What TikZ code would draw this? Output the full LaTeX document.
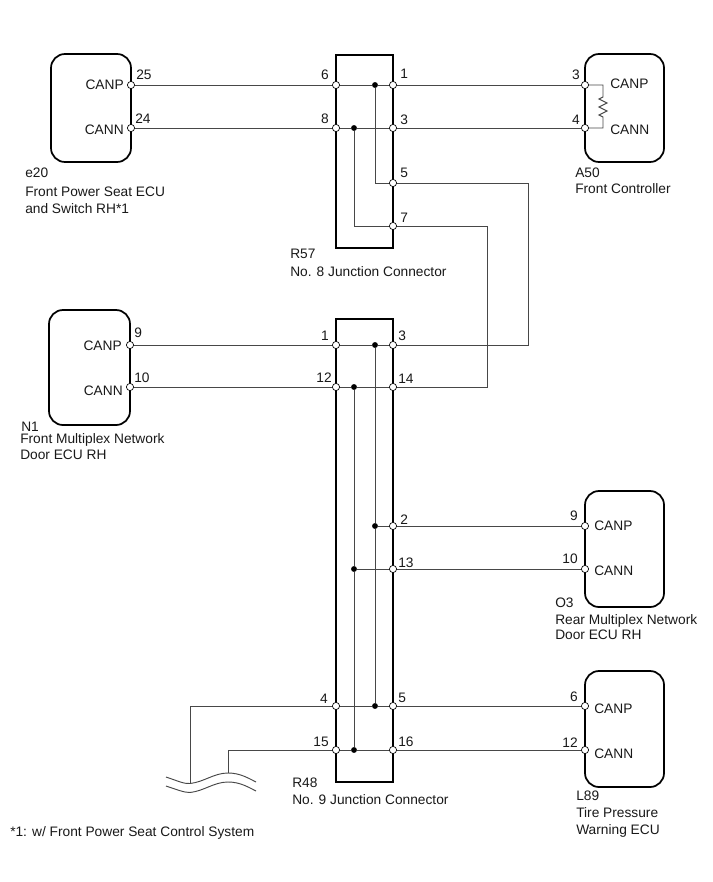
\documentclass[tikz,border=0pt]{standalone}
\usepackage{fontspec}
\setmainfont{Liberation Sans}
\tikzset{
  x=0.75pt,y=-0.75pt,
  ecu/.style={draw=black,line width=1.3pt,rounded corners=10.5pt,fill=white},
  jbox/.style={draw=black,line width=1.3pt,fill=white},
  wire/.style={draw=black!72,line width=0.7pt},
  pin/.style={circle,draw=black,fill=white,line width=0.5pt,inner sep=0pt,minimum size=5.4pt},
  dot/.style={circle,fill=black,draw=none,inner sep=0pt,minimum size=4.4pt},
  lab/.style={font=\fontsize{10.3pt}{12pt}\selectfont,inner sep=0pt,text=black!90},
  labl/.style={lab,anchor=base west},
  labr/.style={lab,anchor=base east},
}
\begin{document}
\begin{tikzpicture}
\useasboundingbox (0,0) rectangle (713,882);
\fill[white] (0,0) rectangle (713,882);
% boxes
\draw[ecu] (51,54) rectangle (131,162);
\draw[ecu] (585,54) rectangle (664,162);
\draw[ecu] (49,310) rectangle (130,425);
\draw[ecu] (585,491) rectangle (664,607);
\draw[ecu] (585,671) rectangle (664,787);
\draw[jbox] (336,55) rectangle (393,248);
\draw[jbox] (336,319) rectangle (393,782);
% coordinates / pins
\coordinate (r1) at (603,85);
\coordinate (r2) at (603,128);
\coordinate (c5) at (528,183);
\coordinate (c5b) at (528,345);
\coordinate (c7) at (487,226);
\coordinate (c7b) at (487,387);
\coordinate (c5a) at (375,183);
\coordinate (c7a) at (354,226);
\coordinate (g1) at (190,706);
\coordinate (g1e) at (190,783);
\coordinate (g2) at (228,750);
\coordinate (g2e) at (228,773);
\node[pin] (e25) at (131,85) {};
\node[pin] (e24) at (131,128) {};
\node[pin] (a6) at (336,85) {};
\node[pin] (a8) at (336,128) {};
\node[pin] (b1) at (393,85) {};
\node[pin] (b3) at (393,128) {};
\node[pin] (b5) at (393,183) {};
\node[pin] (b7) at (393,226) {};
\node[pin] (f3) at (585,85) {};
\node[pin] (f4) at (585,128) {};
\node[pin] (n9) at (130,345) {};
\node[pin] (n10) at (130,387) {};
\node[pin] (c1) at (336,345) {};
\node[pin] (c12) at (336,387) {};
\node[pin] (c4) at (336,706) {};
\node[pin] (c15) at (336,750) {};
\node[pin] (d3) at (393,345) {};
\node[pin] (d14) at (393,387) {};
\node[pin] (d2) at (393,526) {};
\node[pin] (d13) at (393,569) {};
\node[pin] (d5) at (393,706) {};
\node[pin] (d16) at (393,750) {};
\node[pin] (o9) at (585,526) {};
\node[pin] (o10) at (585,569) {};
\node[pin] (l6) at (585,706) {};
\node[pin] (l12) at (585,750) {};
\node[dot] (j1) at (375,85) {};
\node[dot] (j2) at (354,128) {};
\node[dot] (j3) at (375,345) {};
\node[dot] (j4) at (354,387) {};
\node[dot] (j5) at (375,526) {};
\node[dot] (j6) at (354,569) {};
\node[dot] (j7) at (375,706) {};
\node[dot] (j8) at (354,750) {};
% wires
\draw[wire] (e25) -- (a6); \draw[wire] (a6) -- (j1); \draw[wire] (j1) -- (b1); \draw[wire] (b1) -- (f3);
\draw[wire] (e24) -- (a8); \draw[wire] (a8) -- (j2); \draw[wire] (j2) -- (b3); \draw[wire] (b3) -- (f4);
\draw[wire] (f3) -- (r1) -- (603,97) -- (599,99) -- (607,103) -- (599,107) -- (607,111) -- (599,115) -- (603,117) -- (r2) -- (f4);
\draw[wire] (j1) -- (c5a) -- (b5);
\draw[wire] (j2) -- (c7a) -- (b7);
\draw[wire] (b5) -- (c5) -- (c5b) -- (d3);
\draw[wire] (b7) -- (c7) -- (c7b) -- (d14);
\draw[wire] (n9) -- (c1); \draw[wire] (c1) -- (j3); \draw[wire] (j3) -- (d3);
\draw[wire] (n10) -- (c12); \draw[wire] (c12) -- (j4); \draw[wire] (j4) -- (d14);
\draw[wire] (j3) -- (j5); \draw[wire] (j5) -- (j7);
\draw[wire] (j4) -- (j6); \draw[wire] (j6) -- (j8);
\draw[wire] (j5) -- (d2); \draw[wire] (d2) -- (o9);
\draw[wire] (j6) -- (d13); \draw[wire] (d13) -- (o10);
\draw[wire] (c4) -- (j7); \draw[wire] (j7) -- (d5); \draw[wire] (d5) -- (l6);
\draw[wire] (c15) -- (j8); \draw[wire] (j8) -- (d16); \draw[wire] (d16) -- (l12);
\draw[wire] (c4) -- (g1) -- (g1e);
\draw[wire] (c15) -- (g2) -- (g2e);
% break mark
\draw[wire] (166,777) .. controls (178,781) and (184,784) .. (190,783.5) .. controls (204,782) and (214,773) .. (228,773) .. controls (240,773) and (248,778) .. (256,782);
\draw[wire] (166,786) .. controls (178,790) and (184,792.5) .. (190,792.5) .. controls (204,791) and (214,782) .. (228,782) .. controls (240,782) and (248,787) .. (256,791);
% pin numbers
\node[labl] (p1) at (136,79) {25};
\node[labl] (p2) at (135,123) {24};
\node[labr] (p3) at (329,79) {6};
\node[labr] (p4) at (329,123) {8};
\node[labl] (p5) at (400,78) {1};
\node[labl] (p6) at (400,124) {3};
\node[labl] (p7) at (400,177) {5};
\node[labl] (p8) at (400,222) {7};
\node[labr] (p9) at (580,79) {3};
\node[labr] (p10) at (580,124) {4};
\node[labl] (p11) at (134,337) {9};
\node[labl] (p12) at (134,382) {10};
\node[labr] (p13) at (329,340) {1};
\node[labr] (p14) at (332,382) {12};
\node[labl] (p15) at (398,340) {3};
\node[labl] (p16) at (398,383) {14};
\node[labl] (p17) at (400,524) {2};
\node[labl] (p18) at (398,567) {13};
\node[labr] (p19) at (578,520) {9};
\node[labr] (p20) at (578,563) {10};
\node[labr] (p21) at (328,703) {4};
\node[labr] (p22) at (329,746) {15};
\node[labl] (p23) at (398,702) {5};
\node[labl] (p24) at (398,746) {16};
\node[labr] (p25) at (578,701) {6};
\node[labr] (p26) at (578,747) {12};
% signal names
\node[labr] (s1) at (124,89) {CANP};
\node[labr] (s2) at (124,134) {CANN};
\node[labl] (s3) at (610,88) {CANP};
\node[labl] (s4) at (610,134) {CANN};
\node[labr] (s5) at (122,350) {CANP};
\node[labr] (s6) at (123,395) {CANN};
\node[labl] (s7) at (594,530) {CANP};
\node[labl] (s8) at (594,575) {CANN};
\node[labl] (s9) at (594,713) {CANP};
\node[labl] (s10) at (594,758) {CANN};
% captions
\node[labl] (n1) at (25,177) {e20};
\node[labl] (n2) at (25,196) {Front Power Seat ECU};
\node[labl] (n3) at (25,213) {and Switch RH*1};
\node[labl] (n4) at (575,177) {A50};
\node[labl] (n5) at (575,193) {Front Controller};
\node[labl] (n6) at (290,258) {R57};
\node[labl] (n7) at (290,276) {No. 8 Junction Connector};
\node[labl] (n8) at (21,431) {N1};
\node[labl] (n9t) at (20,443) {Front Multiplex Network};
\node[labl] (n10t) at (20,459) {Door ECU RH};
\node[labl] (n11) at (555,607) {O3};
\node[labl] (n12) at (555,624) {Rear Multiplex Network};
\node[labl] (n13) at (555,639) {Door ECU RH};
\node[labl] (n14) at (292,787) {R48};
\node[labl] (n15) at (292,804) {No. 9 Junction Connector};
\node[labl] (n16) at (576,800) {L89};
\node[labl] (n17) at (576,817) {Tire Pressure};
\node[labl] (n18) at (576,834) {Warning ECU};
\node[labl] (n19) at (10,836) {*1: w/ Front Power Seat Control System};
\end{tikzpicture}
\end{document}
